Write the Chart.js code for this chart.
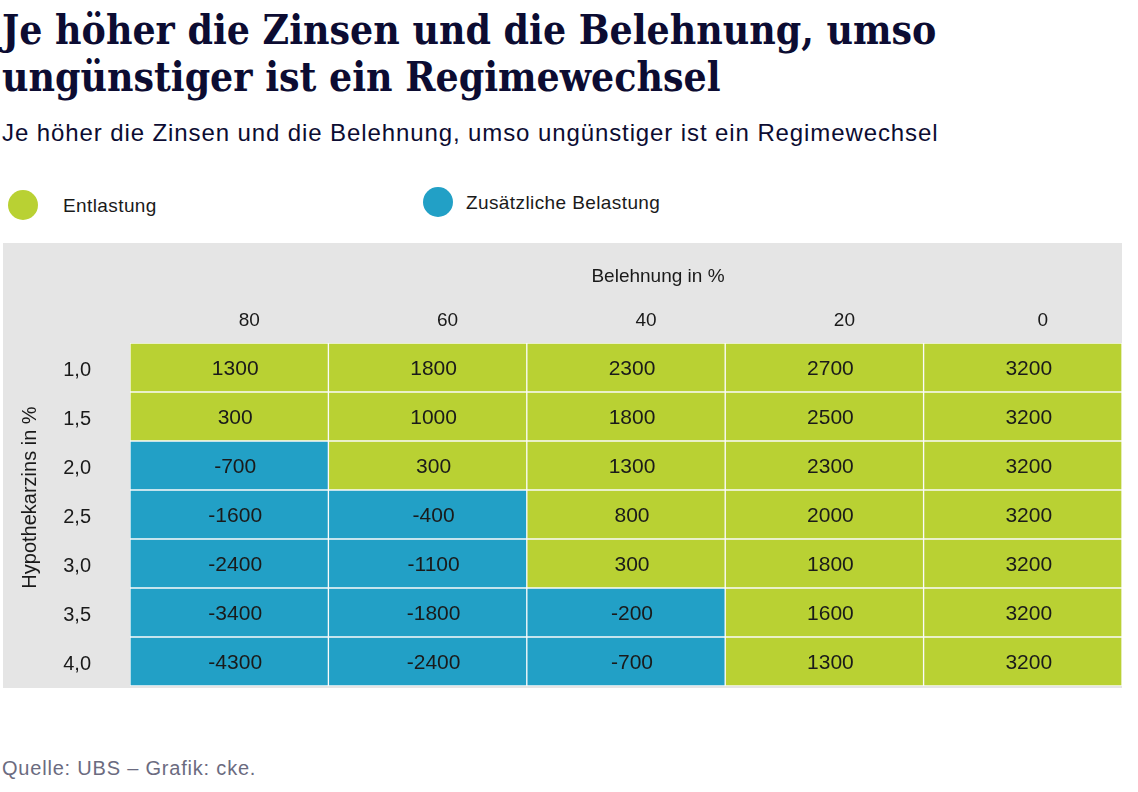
<!DOCTYPE html>
<html>
<head>
<meta charset="utf-8">
<script src="https://cdn.jsdelivr.net/npm/chart.js@4.4.1/dist/chart.umd.min.js"></script>
<style>
  html, body { margin: 0; padding: 0; background: #fff; width: 1138px; height: 792px; overflow: hidden; }
  .abs { position: absolute; white-space: nowrap; }
  #title { left: 2px; top: 7px; font-family: "DejaVu Serif Condensed", "DejaVu Serif", serif; font-weight: bold; font-size: 40.5px; line-height: 47px; color: #0c0c32; }
  #subtitle { left: 2px; top: 119px; font-family: "Liberation Sans", sans-serif; font-size: 24px; letter-spacing: 0.9px; color: #0c0c32; }
  .dot { position: absolute; width: 30px; height: 30px; border-radius: 50%; }
  .leg { font-family: "Liberation Sans", sans-serif; font-size: 19px; letter-spacing: 0.4px; color: #1a1a1a; }
  #panel { left: 3px; top: 243px; width: 1119px; height: 445px; background: #e5e5e5; }
  #source { left: 2px; top: 757px; font-family: "Liberation Sans", sans-serif; font-size: 20px; letter-spacing: 0.8px; color: #6b6b80; }
</style>
</head>
<body>
<div id="title" class="abs">Je höher die Zinsen und die Belehnung, umso<br>ungünstiger ist ein Regimewechsel</div>
<div id="subtitle" class="abs">Je höher die Zinsen und die Belehnung, umso ungünstiger ist ein Regimewechsel</div>
<div class="dot" style="left:8px;top:190px;background:#b9d133"></div>
<div class="abs leg" style="left:63px;top:195px;">Entlastung</div>
<div class="dot" style="left:423px;top:187px;background:#22a0c6"></div>
<div class="abs leg" style="left:466px;top:192px;">Zusätzliche Belastung</div>
<div id="panel" class="abs"><canvas id="c" width="1119" height="445"></canvas></div>
<div id="source" class="abs">Quelle: UBS – Grafik: cke.</div>
<script>
// ---- data ----
const rates = ['1,0', '1,5', '2,0', '2,5', '3,0', '3,5', '4,0'];
const belehnung = ['80', '60', '40', '20', '0'];
const col80 = [1300, 300, -700, -1600, -2400, -3400, -4300];
const col60 = [1800, 1000, 300, -400, -1100, -1800, -2400];
const col40 = [2300, 1800, 1300, 800, 300, -200, -700];
const col20 = [2700, 2500, 2300, 2000, 1800, 1600, 1300];
const col0  = [3200, 3200, 3200, 3200, 3200, 3200, 3200];
const columns = [col80, col60, col40, col20, col0];
const xTitle = 'Belehnung in %';
const yTitle = 'Hypothekarzins in %';

const GREEN = '#b9d133';
const BLUE = '#22a0c6';
const FONT = '"Liberation Sans", sans-serif';

const datasets = columns.map((vals, ci) => ({
  label: belehnung[ci],
  cellValues: vals,
  data: vals.map(() => 1),
  backgroundColor: vals.map(v => v < 0 ? BLUE : GREEN),
  borderColor: 'rgba(255,255,255,0.8)',
  borderWidth: 1,
  borderSkipped: false,
  barPercentage: 1,
  categoryPercentage: 1
}));

const cellText = {
  id: 'cellText',
  afterDatasetsDraw(chart) {
    const ctx = chart.ctx;
    ctx.save();
    ctx.font = '21px ' + FONT;
    ctx.fillStyle = '#1a1a1a';
    ctx.textAlign = 'center';
    ctx.textBaseline = 'middle';
    chart.data.datasets.forEach((ds, di) => {
      const meta = chart.getDatasetMeta(di);
      meta.data.forEach((bar, i) => {
        const p = bar.getProps(['x', 'y', 'base'], true);
        const cx = (p.x + p.base) / 2 + 6;
        ctx.fillText(String(ds.cellValues[i]), cx, p.y + 2);
      });
    });
    const a = chart.chartArea;
    ctx.font = '19px ' + FONT;
    ctx.fillText(xTitle, (a.left + a.right) / 2 + 32, 34);
    // y axis title, rotated
    ctx.translate(27, (a.top + a.bottom) / 2 - 17);
    ctx.rotate(-Math.PI / 2);
    ctx.font = '20px ' + FONT;
    ctx.fillText(yTitle, 0, 0);
    ctx.restore();
  }
};

new Chart(document.getElementById('c'), {
  type: 'bar',
  data: { labels: rates, datasets },
  options: {
    indexAxis: 'y',
    responsive: false,
    animation: false,
    layout: { padding: { top: 0, right: 0, bottom: 2, left: 0 } },
    plugins: { legend: { display: false }, tooltip: { enabled: false } },
    scales: {
      x: {
        type: 'linear',
        position: 'top',
        stacked: true,
        min: 0,
        max: belehnung.length,
        afterBuildTicks(scale) { scale.ticks = belehnung.map((b, i) => ({ value: i + 0.5 })); },
        afterFit(scale) { scale.height = 100; },
        grid: { display: false, drawTicks: false },
        border: { display: false },
        ticks: {
          autoSkip: false,
          maxRotation: 0,
          padding: 11,
          labelOffset: 20,
          color: '#1a1a1a',
          font: { family: FONT, size: 19 },
          callback: (v, i) => belehnung[i]
        }
      },
      y: {
        type: 'category',
        stacked: true,
        offset: true,
        afterFit(scale) { scale.width = 127; scale.paddingTop = 0; scale.paddingBottom = 0; },
        grid: { display: false, drawTicks: false, offset: true },
        border: { display: false },
        ticks: {
          padding: 39,
          labelOffset: 3,
          color: '#1a1a1a',
          font: { family: FONT, size: 20 }
        }
      }
    }
  },
  plugins: [cellText]
});
</script>
</body>
</html>
